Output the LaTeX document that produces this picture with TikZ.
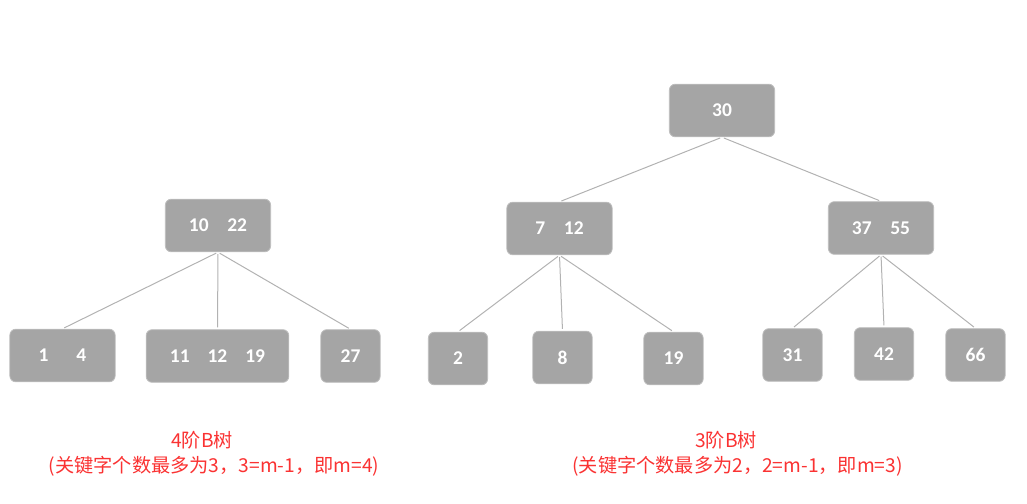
\documentclass[tikz,border=0pt]{standalone}
\usepackage{fontspec}
\setmainfont{Carlito}
\newfontfamily\cjk{Noto Sans CJK SC}
\definecolor{boxfill}{RGB}{165,165,165}
\definecolor{boxedge}{RGB}{190,190,190}
\definecolor{linkgray}{RGB}{178,178,178}
\definecolor{labelred}{RGB}{250,50,50}
\begin{document}
\begin{tikzpicture}[x=0.75pt,y=-0.75pt,
  bnode/.style={rectangle, rounded corners=4.5pt, fill=boxfill, draw=boxedge, line width=0.6pt,
    text=white, font=\fontsize{14.6}{17}\selectfont\bfseries, inner sep=0pt,
    minimum height=39.5pt},
  wide/.style={bnode, minimum width=79pt},
  wider/.style={bnode, minimum width=107pt},
  narrow/.style={bnode, minimum width=44.5pt},
  link/.style={draw=linkgray, line width=0.75pt, shorten <=1.5pt, shorten >=1.5pt},
  lbl/.style={text=labelred, font=\cjk\fontsize{14.4}{17}\selectfont, inner sep=0pt}]
\useasboundingbox (0,0) rectangle (1027,503);
% left tree: 4阶B树
\node[wide] (lr) at (218,225.5) {10\hspace{14pt}22};
\node[wide] (l1) at (62.5,355.5) {1\hspace{21pt}4};
\node[wider] (l2) at (217.5,356) {11\hspace{13.5pt}12\hspace{13.5pt}19};
\node[narrow] (l3) at (350.5,356) {27};
\draw[link] (lr.south) -- (l1.north);
\draw[link] (lr.south) -- (l2.north);
\draw[link] (lr.south) -- (l3.north);
% right tree: 3阶B树
\node[wide] (rr) at (722,110.5) {30};
\node[wide] (ra) at (559.5,228.5) {7\hspace{14pt}12};
\node[wide] (rb) at (881,228) {37\hspace{14pt}55};
\node[narrow] (a1) at (458,358.5) {2};
\node[narrow] (a2) at (562.5,357.5) {8};
\node[narrow] (a3) at (673.5,358.5) {19};
\node[narrow] (b1) at (792.5,355) {31};
\node[narrow] (b2) at (884,354) {42};
\node[narrow] (b3) at (975.5,355) {66};
\draw[link] (rr.south) -- (ra.north);
\draw[link] (rr.south) -- (rb.north);
\draw[link] (ra.south) -- (a1.north);
\draw[link] (ra.south) -- (a2.north);
\draw[link] (ra.south) -- (a3.north);
\draw[link] (rb.south) -- (b1.north);
\draw[link] (rb.south) -- (b2.north);
\draw[link] (rb.south) -- (b3.north);
% labels
\node[lbl] (t1) at (202,440) {4阶B树};
\node[lbl] (s1) at (214,466) {(关键字个数最多为3，3=m-1，即m=4)};
\node[lbl] (t2) at (726,440) {3阶B树};
\node[lbl] (s2) at (737.5,466) {(关键字个数最多为2，2=m-1，即m=3)};
\end{tikzpicture}
\end{document}
